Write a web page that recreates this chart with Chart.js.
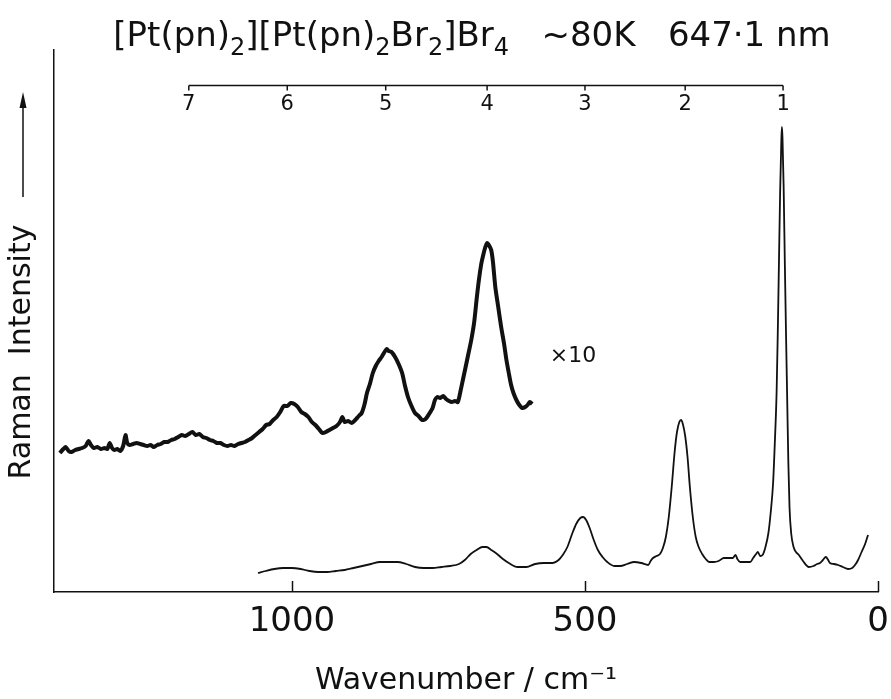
<!DOCTYPE html>
<html>
<head>
<meta charset="utf-8">
<script src="https://cdn.jsdelivr.net/npm/chart.js@4/dist/chart.umd.min.js"></script>
<style>
  html, body { margin: 0; padding: 0; background: #ffffff; }
  #wrap { width: 891px; height: 699px; }
</style>
</head>
<body>
<div id="wrap"><canvas id="c" width="891" height="699"></canvas></div>
<script>
// ---- data (wavenumber / cm-1, intensity in arbitrary units) ----
const mainWn = [1058,1045,1030,1015,1000,985,970,955,940,925,910,895,880,865,850,835,820,805,790,775,760,745,730,715,705,695,685,675,668,660,650,640,630,615,600,585,570,555,545,538,530,522,515,508,503,498,492,485,478,470,462,450,440,428,416,404,392,388,384,378,372,367,362,357,352,347,343,339,336,333,329,325,321,316,311,306,300,294,288,280,272,263,255,248,243,240,235,226,218,213,208,205,201,197,192,187,183,179,176,173,171,169,167,165,164,163,161,159,157,155,153,151,148,144,140,135,128,118,110,104,99,94,89,85,82,75,68,60,51,44,38,34,28,22,17];
const mainVal = [19,21,23,24,24,23,21,20,20,21,22,24,26,28,30,30,30,28,25,24,24,25,26,28,32,38,42,45,45,42,38,33,29,25,25,28,29,29,32,37,45,58,68,74,75,72,64,52,42,35,30,26,26,28,30,29,27,31,34,36,38,44,55,75,105,140,160,170,172,168,156,135,105,75,55,45,38,33,30,30,31,34,34,34,37,33,30,30,30,34,38,40,36,37,45,59,80,109,150,200,260,330,400,450,465,455,405,330,260,195,130,85,58,45,40,37,31,25,26,28,29,32,35,32,29,28,27,25,23,24,28,32,40,48,57];

const x10Wn = [1396,1390,1386,1381,1376,1370,1364,1358,1352,1347,1343,1338,1332,1326,1320,1315,1311,1307,1303,1298,1293,1288,1284,1281,1277,1271,1265,1259,1253,1247,1241,1236,1230,1224,1218,1212,1206,1200,1194,1188,1182,1176,1170,1164,1158,1152,1146,1140,1134,1128,1122,1116,1110,1104,1098,1092,1086,1080,1074,1068,1062,1056,1050,1044,1038,1032,1026,1020,1014,1008,1002,996,990,984,978,972,966,960,954,948,942,936,930,924,918,914,910,904,898,892,886,881,876,872,867,862,857,852,847,842,838,835,830,824,818,812,807,802,796,790,784,778,772,766,760,756,752,747,742,737,732,727,722,717,712,708,704,699,694,689,685,681,677,674,670,667,664,660,657,653,648,643,638,634,630,626,622,617,612,607,602,598,594,590];
const x10Val = [139,143,145,141,140,142,143,144,146,151,147,144,145,143,144,143,149,144,142,143,141,146,157,149,147,148,149,148,147,146,147,145,147,148,150,150,152,153,155,157,156,158,160,157,158,155,154,152,151,149,149,147,146,147,146,148,149,150,152,154,157,160,163,167,168,172,175,180,186,186,189,188,185,180,178,175,170,167,163,159,160,162,164,166,170,175,170,171,169,172,176,179,188,199,208,219,226,231,235,240,243,241,240,235,228,219,206,195,186,179,176,172,173,178,184,192,195,194,196,193,191,190,191,190,202,213,224,238,252,270,292,312,328,336,345,349,347,342,330,305,285,265,248,232,219,207,199,192,187,184,185,187,190,188];

// bottom axis tick values and the overtone scale on top
const xTicks = [0, 500, 1000];
const overtoneWn = [1176, 1008, 840, 667, 500, 329, 162];
const overtoneLabels = ['7', '6', '5', '4', '3', '2', '1'];
const overtoneLevel = 507;   // intensity level where the top scale sits

// title pieces: [text, isSubscript]
const titleParts = [['[Pt(pn)', 0], ['2', 1], ['][Pt(pn)', 0], ['2', 1], ['Br', 0], ['2', 1], [']Br', 0], ['4', 1], ['   ~80K   647\u00b71 nm', 0]];
const yTitle = 'Raman  Intensity';
const xTitle = 'Wavenumber / cm\u207b\u00b9';
const scaleNote = '\u00d710';

const FONT = '"DejaVu Sans", sans-serif';
const INK = '#111111';

const mainData = mainWn.map((w, i) => ({ x: w, y: mainVal[i] }));
const x10Data = x10Wn.map((w, i) => ({ x: w, y: x10Val[i] }));

const decor = {
  id: 'decor',
  afterDraw(chart) {
    const ctx = chart.ctx;
    const xs = chart.scales.x, ys = chart.scales.y;
    const area = chart.chartArea;
    ctx.save();
    ctx.strokeStyle = INK;
    ctx.fillStyle = INK;
    // title with subscripts
    const mainFont = '34px ' + FONT, subFont = '24px ' + FONT;
    let total = 0;
    titleParts.forEach(p => { ctx.font = p[1] ? subFont : mainFont; total += ctx.measureText(p[0]).width; });
    let tx = 472 - total / 2;
    ctx.textAlign = 'left';
    ctx.textBaseline = 'alphabetic';
    titleParts.forEach(p => {
      ctx.font = p[1] ? subFont : mainFont;
      ctx.fillText(p[0], tx, p[1] ? 55 : 46);
      tx += ctx.measureText(p[0]).width;
    });
    // inward ticks on the bottom axis
    ctx.lineWidth = 1.5;
    xTicks.forEach(v => {
      const px = Math.round(xs.getPixelForValue(v)) + 0.5;
      ctx.beginPath();
      ctx.moveTo(px, area.bottom);
      ctx.lineTo(px, area.bottom - 11);
      ctx.stroke();
    });
    // top overtone scale
    const ty = Math.round(ys.getPixelForValue(overtoneLevel)) + 0.5;
    const xa = xs.getPixelForValue(overtoneWn[0]);
    const xb = xs.getPixelForValue(overtoneWn[overtoneWn.length - 1]);
    ctx.lineWidth = 1.5;
    ctx.beginPath();
    ctx.moveTo(xa, ty);
    ctx.lineTo(xb, ty);
    ctx.stroke();
    ctx.font = '21px ' + FONT;
    ctx.textAlign = 'center';
    ctx.textBaseline = 'middle';
    overtoneWn.forEach((w, i) => {
      const px = xs.getPixelForValue(w);
      ctx.beginPath();
      ctx.moveTo(px, ty);
      ctx.lineTo(px, ty + 5);
      ctx.stroke();
      ctx.fillText(overtoneLabels[i], px, ty + 19);
    });
    // x10 note
    ctx.font = '22px ' + FONT;
    ctx.textAlign = 'left';
    ctx.fillText(scaleNote, xs.getPixelForValue(560), ys.getPixelForValue(236));
    // y title with arrow
    ctx.save();
    ctx.translate(22, 352);
    ctx.rotate(-Math.PI / 2);
    ctx.font = '30px ' + FONT;
    ctx.textAlign = 'center';
    ctx.textBaseline = 'middle';
    ctx.fillText(yTitle, 0, 0);
    ctx.restore();
    ctx.lineWidth = 1.5;
    ctx.beginPath();
    ctx.moveTo(23, 197);
    ctx.lineTo(23, 104);
    ctx.stroke();
    ctx.beginPath();
    ctx.moveTo(23, 92);
    ctx.lineTo(19.5, 108);
    ctx.lineTo(26.5, 108);
    ctx.closePath();
    ctx.fill();
    ctx.restore();
  }
};

new Chart(document.getElementById('c'), {
  type: 'line',
  data: {
    datasets: [
      { label: 'x10', data: x10Data, borderColor: INK, borderWidth: 4, pointRadius: 0, tension: 0.25, fill: false },
      { label: 'spectrum', data: mainData, borderColor: INK, borderWidth: 1.8, pointRadius: 0, cubicInterpolationMode: 'monotone', fill: false }
    ]
  },
  options: {
    responsive: false,
    animation: false,
    events: [],
    layout: { autoPadding: false, padding: { left: 0, right: 13, top: 50, bottom: 0 } },
    plugins: {
      legend: { display: false },
      tooltip: { enabled: false },
      title: { display: false }
    },
    scales: {
      x: {
        type: 'linear',
        min: 0,
        max: 1406,
        reverse: true,
        afterFit(s) { s.height = 107; },
        afterBuildTicks(s) { s.ticks = xTicks.map(v => ({ value: v })); },
        grid: { display: false, drawTicks: false },
        border: { display: true, color: INK, width: 1.5 },
        ticks: {
          color: INK,
          padding: 10,
          maxRotation: 0,
          autoSkip: false,
          font: { family: FONT, size: 34 },
          callback: v => String(v)
        },
        title: {
          display: true,
          text: xTitle,
          color: INK,
          font: { family: FONT, size: 30 },
          padding: { top: 0, bottom: 0 }
        }
      },
      y: {
        min: 0,
        max: 542,
        afterFit(s) { s.width = 54; },
        grid: { display: false, drawTicks: false },
        border: { display: true, color: INK, width: 1.5 },
        ticks: { display: false },
        title: { display: false }
      }
    }
  },
  plugins: [decor]
});
</script>
</body>
</html>
